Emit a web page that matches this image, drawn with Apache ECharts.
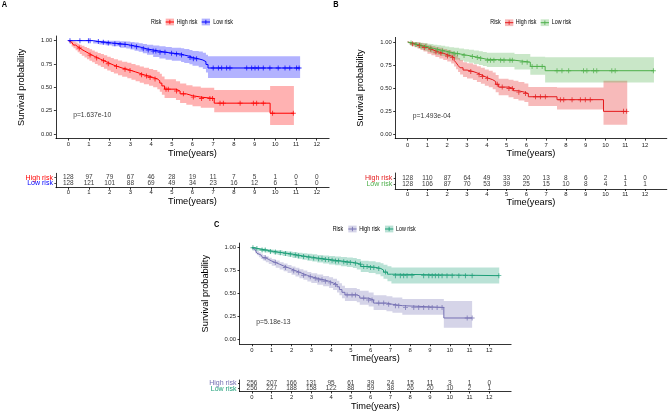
<!DOCTYPE html>
<html><head><meta charset="utf-8">
<script src="https://cdn.jsdelivr.net/npm/echarts@6/dist/echarts.min.js"></script>
<style>html,body{margin:0;padding:0;background:#fff}#c{width:668px;height:412px}</style>
</head><body><div id="c"></div>
<script>
// ---------- tick labels ----------
const yearTicks = [0,1,2,3,4,5,6,7,8,9,10,11,12];
const survTicks = [0,0.25,0.5,0.75,1];

// ---------- Panel A ----------
const aHighT = [0,0.08,0.16,0.25,0.35,0.45,0.55,0.65,0.78,0.9,1.02,1.15,1.28,1.42,1.57,1.72,1.88,2.05,2.2,2.4,2.6,2.85,3.05,3.25,3.45,3.65,3.9,4.1,4.3,4.42,4.52,4.65,5.2,5.4,5.7,6.0,6.4,7.05,9.75,10.9];
const aHighS = [1.0,0.984,0.969,0.953,0.937,0.922,0.906,0.89,0.875,0.86,0.845,0.83,0.815,0.8,0.785,0.77,0.752,0.737,0.722,0.707,0.693,0.679,0.665,0.65,0.634,0.62,0.605,0.59,0.57,0.545,0.515,0.48,0.46,0.43,0.41,0.395,0.38,0.33,0.222,0.222];
const aHighL = [1,0.963,0.938,0.918,0.897,0.877,0.858,0.838,0.82,0.802,0.785,0.768,0.751,0.734,0.717,0.7,0.68,0.663,0.647,0.63,0.614,0.598,0.582,0.566,0.548,0.532,0.516,0.5,0.478,0.452,0.42,0.385,0.364,0.333,0.312,0.296,0.28,0.232,0.095,0.095];
const aHighU = [1,1,1,0.99,0.98,0.968,0.956,0.945,0.933,0.921,0.908,0.895,0.882,0.869,0.856,0.843,0.828,0.814,0.8,0.787,0.774,0.762,0.749,0.736,0.722,0.71,0.697,0.685,0.667,0.645,0.617,0.585,0.566,0.54,0.522,0.508,0.495,0.47,0.515,0.515];
const aHighCens = [0.53,1.05,1.37,1.7,1.93,2.33,2.74,2.98,3.54,3.78,3.95,4.19,4.72,4.83,5.23,5.56,6.04,6.44,6.84,6.97,7.33,7.49,8.3,8.94,9.1,9.42,9.87,10.87];
const aLowT = [0,1.2,1.5,1.8,2.1,2.5,2.8,3.0,3.2,3.4,3.6,3.8,4.1,4.4,4.7,5.0,5.45,5.6,5.85,6.0,6.3,6.5,6.65,6.75,11.2];
const aLowS = [1.0,0.99,0.983,0.975,0.968,0.96,0.952,0.944,0.935,0.925,0.912,0.9,0.888,0.876,0.866,0.857,0.846,0.833,0.82,0.805,0.793,0.775,0.745,0.707,0.707];
const aLowL = [1,0.97,0.96,0.95,0.94,0.925,0.915,0.905,0.893,0.88,0.865,0.85,0.825,0.808,0.796,0.785,0.772,0.76,0.746,0.73,0.716,0.697,0.66,0.6,0.6];
const aLowU = [1,1,1,1,1,0.995,0.99,0.985,0.98,0.973,0.965,0.955,0.948,0.94,0.932,0.925,0.918,0.91,0.9,0.89,0.883,0.87,0.85,0.832,0.832];
const aLowCens = [0.08,0.56,0.97,1.05,1.45,1.69,1.93,2.25,2.5,2.74,3.06,3.3,3.62,3.86,4.1,4.23,4.43,4.67,4.99,5.23,5.47,5.88,6.04,6.2,7.0,7.25,7.41,7.65,7.81,8.62,8.86,9.02,9.18,9.42,9.74,10.14,10.47,10.7,11.03,11.15];
const aRiskHigh = [128,97,79,67,46,28,19,11,7,5,1,0,0];
const aRiskLow  = [128,121,101,88,69,49,34,23,16,12,6,1,0];

// ---------- Panel B ----------
const bHighT = [0,0.1,0.2,0.35,0.5,0.65,0.8,1.0,1.2,1.4,1.6,1.8,2.0,2.2,2.35,2.45,2.55,2.65,2.8,3.0,3.3,3.5,3.7,3.9,4.1,4.3,4.45,4.6,5.1,5.35,5.6,5.9,6.1,7.55,9.9,11.1];
const bHighS = [1.0,0.99,0.98,0.972,0.962,0.952,0.94,0.92,0.905,0.89,0.878,0.862,0.848,0.83,0.8,0.775,0.745,0.72,0.695,0.68,0.665,0.645,0.625,0.605,0.59,0.57,0.54,0.51,0.495,0.47,0.455,0.44,0.405,0.373,0.246,0.246];
const bHighL = [1,0.97,0.955,0.942,0.928,0.914,0.898,0.873,0.855,0.837,0.822,0.804,0.787,0.767,0.733,0.705,0.673,0.646,0.619,0.603,0.587,0.566,0.545,0.524,0.508,0.487,0.455,0.42,0.4,0.38,0.363,0.347,0.305,0.265,0.1,0.1];
const bHighU = [1,1,1,1,0.996,0.99,0.983,0.968,0.957,0.946,0.937,0.924,0.913,0.898,0.873,0.852,0.825,0.804,0.781,0.768,0.755,0.737,0.719,0.701,0.687,0.668,0.641,0.6,0.59,0.578,0.564,0.55,0.51,0.505,0.58,0.58];
const bHighCens = [0.25,0.59,0.84,1.17,1.43,1.68,2.01,2.27,3.19,3.61,3.78,4.03,4.53,4.78,5.12,5.29,5.62,5.96,6.46,6.71,6.96,7.72,7.89,8.31,8.73,8.98,9.23,10.91,11.07];
const bLowT = [0,0.1,0.2,0.35,0.5,0.65,0.8,1.0,1.15,1.3,1.5,1.7,1.9,2.1,2.35,2.6,2.85,3.1,3.35,3.6,3.8,4.0,5.4,6.2,6.95,12.45];
const bLowS = [1.0,0.99,0.982,0.974,0.966,0.958,0.95,0.94,0.931,0.922,0.912,0.902,0.892,0.882,0.872,0.862,0.852,0.842,0.832,0.822,0.812,0.802,0.781,0.735,0.688,0.688];
const bLowL = [1,0.97,0.958,0.945,0.933,0.92,0.908,0.895,0.884,0.872,0.86,0.847,0.835,0.823,0.81,0.798,0.786,0.774,0.762,0.75,0.738,0.727,0.7,0.644,0.56,0.56];
const bLowU = [1,1,1,1,0.998,0.993,0.989,0.982,0.977,0.971,0.965,0.958,0.951,0.944,0.937,0.93,0.922,0.915,0.907,0.899,0.891,0.883,0.87,0.84,0.835,0.835];
const bLowCens = [0.17,0.42,0.67,0.92,1.17,1.51,1.76,2.1,2.35,2.52,2.85,3.27,3.52,3.69,4.03,4.19,4.36,4.7,4.87,5.17,5.29,5.79,6.04,6.29,6.54,6.8,7.55,7.8,8.14,8.89,9.06,9.4,9.56,10.32,10.49,12.42];
const bRiskHigh = [128,110,87,64,49,33,20,13,8,6,2,1,0];
const bRiskLow  = [128,106,87,70,53,39,25,15,10,8,4,1,1];

// ---------- Panel C ----------
const cHighT = [0,0.08,0.16,0.25,0.35,0.45,0.55,0.7,0.85,1.0,1.2,1.4,1.6,1.8,2.0,2.2,2.4,2.6,2.8,3.0,3.3,3.6,3.9,4.1,4.3,4.42,4.55,4.7,5.3,5.45,5.9,6.15,6.8,7.1,7.6,9.7,11.13];
const cHighS = [1.0,0.98,0.96,0.94,0.922,0.905,0.89,0.872,0.855,0.838,0.82,0.802,0.785,0.768,0.75,0.733,0.716,0.7,0.684,0.668,0.652,0.635,0.618,0.6,0.575,0.545,0.515,0.487,0.475,0.452,0.432,0.398,0.385,0.37,0.351,0.236,0.236];
const cHighL = [1,0.963,0.94,0.917,0.897,0.877,0.861,0.841,0.822,0.803,0.783,0.764,0.745,0.726,0.706,0.687,0.668,0.651,0.633,0.616,0.598,0.58,0.561,0.541,0.514,0.482,0.45,0.42,0.406,0.381,0.36,0.323,0.309,0.293,0.272,0.13,0.13];
const cHighU = [1,0.997,0.985,0.967,0.951,0.936,0.922,0.906,0.891,0.876,0.86,0.843,0.828,0.812,0.796,0.781,0.765,0.751,0.737,0.722,0.708,0.693,0.678,0.662,0.64,0.613,0.586,0.562,0.551,0.531,0.514,0.484,0.472,0.459,0.442,0.42,0.42];
const cHighCens = [0.67,1.18,1.69,2.11,2.36,2.61,2.95,3.2,3.37,3.54,3.71,3.96,4.22,4.81,5.06,5.23,5.65,5.9,6.07,6.41,6.66,6.91,7.25,7.42,7.76,8.18,8.43,8.68,8.94,9.11,9.36,9.61,10.88,11.13];
const cLowT = [0,0.15,0.3,0.5,0.7,0.9,1.1,1.3,1.55,1.8,2.05,2.3,2.55,2.8,3.05,3.3,3.6,3.9,4.2,4.5,4.8,5.1,5.3,5.5,5.9,6.25,6.5,6.65,6.85,7.05,12.5];
const cLowS = [1.0,0.99,0.983,0.975,0.968,0.96,0.953,0.946,0.938,0.93,0.92,0.912,0.904,0.896,0.888,0.88,0.871,0.863,0.856,0.848,0.84,0.832,0.82,0.795,0.786,0.775,0.758,0.735,0.712,0.696,0.696];
const cLowL = [1,0.978,0.968,0.958,0.949,0.939,0.93,0.921,0.911,0.901,0.889,0.879,0.869,0.859,0.849,0.839,0.828,0.818,0.809,0.799,0.789,0.779,0.764,0.735,0.725,0.711,0.69,0.663,0.636,0.612,0.612];
const cLowU = [1,1,0.998,0.992,0.987,0.981,0.976,0.971,0.965,0.959,0.952,0.946,0.94,0.934,0.928,0.922,0.915,0.909,0.904,0.898,0.893,0.887,0.878,0.858,0.852,0.843,0.831,0.815,0.799,0.786,0.786];
const cLowCens = [0.05,0.25,0.51,0.67,0.93,1.18,1.43,1.69,1.94,2.19,2.36,2.61,2.87,3.12,3.37,3.54,3.71,3.88,4.05,4.22,4.38,4.64,4.81,4.97,5.23,5.48,5.65,5.82,5.99,6.16,6.41,6.75,7.25,7.5,7.67,7.84,8.09,8.68,8.94,9.11,9.27,9.44,9.61,9.86,10.12,10.46,10.79,11.13,12.48];
const cRiskHigh = [256,207,166,131,95,61,39,24,15,11,3,1,0];
const cRiskLow  = [256,227,188,158,122,88,59,38,26,20,10,2,1];

// ---------- font choice: a real narrow sans if present, else Liberation Sans squeezed ----------
function textWidth(font, txt) {
  const c = document.createElement('canvas').getContext('2d');
  c.font = font; return c.measureText(txt).width;
}
const probe = 'Time(years) Survival probability 0123456789';
const monoW = textWidth('100px monospace', probe);
const baseW = textWidth('100px "Liberation Sans", monospace', probe);
let FONT = "'Liberation Sans', Arial, sans-serif", ratio = 1;
for (const f of ['Liberation Sans Narrow','Arial Narrow','Nimbus Sans Narrow']) {
  const w = textWidth('100px "' + f + '", monospace', probe);
  if (Math.abs(w - monoW) > 1 && w / baseW < 0.88) { FONT = "'" + f + "', sans-serif"; ratio = w / baseW; break; }
}
const SX = Math.min(1, 0.82 / ratio);   // horizontal squeeze for free-standing text
const FS = Math.pow(SX, 0.4);           // font-size factor for library-placed text

const PLUS = 'path://M-1,-0.18H1V0.18H-1Z M-0.18,-1H0.18V1H-0.18Z';

const panels = [
  { letter:'A', letterPos:[4.5,4.5],
    high:{T:aHighT,S:aHighS,L:aHighL,U:aHighU,C:aHighCens,color:'#FF0000',fill:'rgba(255,0,0,0.3)'},
    low:{T:aLowT,S:aLowS,L:aLowL,U:aLowU,C:aLowCens,color:'#0000FF',fill:'rgba(0,0,255,0.3)'},
    riskHigh:aRiskHigh, riskLow:aRiskLow, pval:'p=1.637e-10', pvalPos:[0.21,0.2],
    xmin:-0.6, xmax:12.6,
    plot:{left:55.9,top:36.0,width:273.2,height:102.6}, plotNameGap:7.5, plotLabelMargin:3,
    table:{top:173.3,height:14.4,ymin:0.21,ymax:2.79}, tableNameGap:8.5, tableLabelMargin:2,
    legend:{y:22,risk:151,k1:165.7,t1:176.7,k2:201.7,t2:213.3} },
  { letter:'B', letterPos:[336,4.5],
    high:{T:bHighT,S:bHighS,L:bHighL,U:bHighU,C:bHighCens,color:'#E41A1C',fill:'rgba(228,26,28,0.3)'},
    low:{T:bLowT,S:bLowS,L:bLowL,U:bLowU,C:bLowCens,color:'#4DAF4A',fill:'rgba(77,175,74,0.3)'},
    riskHigh:bRiskHigh, riskLow:bRiskLow, pval:'p=1.493e-04', pvalPos:[0.23,0.19],
    xmin:-0.63, xmax:13.1,
    plot:{left:395.2,top:37.4,width:271.6,height:101.2}, plotNameGap:8.5, plotLabelMargin:3.5,
    table:{top:173,height:16,ymin:0.17,ymax:2.83}, tableNameGap:8, tableLabelMargin:2,
    legend:{y:22.7,risk:490.3,k1:505,t1:515.7,k2:540.7,t2:551.7} },
  { letter:'C', letterPos:[216.7,225],
    high:{T:cHighT,S:cHighS,L:cHighL,U:cHighU,C:cHighCens,color:'#7570B3',fill:'rgba(117,112,179,0.3)'},
    low:{T:cLowT,S:cLowS,L:cLowL,U:cLowU,C:cLowCens,color:'#1B9E77',fill:'rgba(27,158,119,0.3)'},
    riskHigh:cRiskHigh, riskLow:cRiskLow, pval:'p=5.18e-13', pvalPos:[0.19,0.19],
    xmin:-0.63, xmax:13.1,
    plot:{left:239.5,top:243.1,width:271.6,height:101.2}, plotNameGap:8.5, plotLabelMargin:3,
    table:{top:380,height:13.3,ymin:0.51,ymax:2.5}, tableNameGap:10.5, tableLabelMargin:3,
    legend:{y:229,risk:332.7,k1:348.3,t1:359.3,k2:385,t2:396} }
];

function stepAt(T, S, t) {
  let v = S[0];
  for (let k = 0; k < T.length; k++) { if (T[k] <= t) v = S[k]; else break; }
  return v;
}

const axisLineStyle = {color:'#000', width:0.8};
const grids = [], xAxes = [], yAxes = [], series = [], graphics = [];

function xAxisCfg(gi, p, gap, margin) {
  return { gridIndex:gi, type:'value', min:p.xmin, max:p.xmax,
    name:'Time(years)', nameLocation:'middle', nameGap:gap,
    nameTextStyle:{fontFamily:FONT, fontSize:10*FS, color:'#000', verticalAlign:'top'},
    axisLine:{show:true, onZero:false, lineStyle:axisLineStyle},
    axisTick:{show:true, length:2, customValues:yearTicks, lineStyle:axisLineStyle},
    axisLabel:{customValues:yearTicks, fontFamily:FONT, fontSize:6.4*FS, color:'#222', margin:margin, hideOverlap:false},
    splitLine:{show:false} };
}
function rowAxis(gi, p, val, text, color, showLine) {
  return { gridIndex:gi, type:'value', min:p.table.ymin, max:p.table.ymax, position:'left', offset:0,
    axisLine:{show:showLine, onZero:false, lineStyle:axisLineStyle},
    axisTick:{show:true, length:1.5, customValues:[val], lineStyle:axisLineStyle},
    axisLabel:{customValues:[val], formatter:() => text, color:color, hideOverlap:false,
      fontFamily:FONT, fontSize:7.6*FS, margin:3},
    splitLine:{show:false} };
}

panels.forEach(p => {
  const gP = grids.length, gT = gP + 1;
  grids.push({left:p.plot.left, top:p.plot.top, width:p.plot.width, height:p.plot.height});
  grids.push({left:p.plot.left, top:p.table.top, width:p.plot.width, height:p.table.height});
  const xP = xAxes.length; xAxes.push(xAxisCfg(gP, p, p.plotNameGap, p.plotLabelMargin));
  const xT = xAxes.length; xAxes.push(xAxisCfg(gT, p, p.tableNameGap, p.tableLabelMargin));
  const yP = yAxes.length;
  yAxes.push({ gridIndex:gP, type:'value', min:-0.05, max:1.05,
    name:'Survival probability', nameLocation:'middle', nameGap:30, nameRotate:90,
    nameTextStyle:{fontFamily:FONT, fontSize:10*FS, color:'#000'},
    axisLine:{show:true, onZero:false, lineStyle:axisLineStyle},
    axisTick:{show:true, length:2, customValues:survTicks, lineStyle:axisLineStyle},
    axisLabel:{customValues:survTicks, formatter:v => Number(v).toFixed(2), fontFamily:FONT, fontSize:6.4*FS, color:'#222', margin:3.5, hideOverlap:false},
    splitLine:{show:false} });
  const yT = yAxes.length;
  yAxes.push(rowAxis(gT, p, 2, 'High risk', p.high.color, true));
  yAxes.push(rowAxis(gT, p, 1, 'Low risk', p.low.color, false));

  // confidence bands: one step-shaped polygon per group, placed through the axes
  [p.high, p.low].forEach(g => {
    series.push({type:'custom', xAxisIndex:xP, yAxisIndex:yP, silent:true, z:1, clip:true,
      encode:{x:0, y:[1,2]},
      data:g.T.map((t,k) => [t, g.L[k], g.U[k]]),
      renderItem:(params, api) => {
        if (params.dataIndexInside !== 0) return null;
        const n = g.T.length, pts = [];
        for (let k = 0; k < n; k++) {
          pts.push(api.coord([g.T[k], g.U[k]]));
          if (k < n - 1) pts.push(api.coord([g.T[k+1], g.U[k]]));
        }
        for (let k = n - 1; k >= 0; k--) {
          if (k < n - 1) pts.push(api.coord([g.T[k+1], g.L[k]]));
          pts.push(api.coord([g.T[k], g.L[k]]));
        }
        return {type:'polygon', shape:{points:pts}, style:{fill:g.fill, stroke:null}};
      }});
  });
  [['High risk',p.high],['Low risk',p.low]].forEach(([name,g]) => {
    series.push({type:'line', name:name, xAxisIndex:xP, yAxisIndex:yP, step:'end', symbol:'none', z:3,
      lineStyle:{color:g.color, width:1}, itemStyle:{color:g.color}, data:g.T.map((t,k) => [t, g.S[k]])});
    series.push({type:'scatter', xAxisIndex:xP, yAxisIndex:yP, symbol:PLUS, symbolSize:5, z:4,
      itemStyle:{color:g.color}, data:g.C.map(t => [t, stepAt(g.T, g.S, t)])});
  });
  // p-value
  series.push({type:'scatter', xAxisIndex:xP, yAxisIndex:yP, symbolSize:1, itemStyle:{color:'rgba(0,0,0,0)'}, z:5,
    label:{show:true, position:'right', distance:0, formatter:p.pval, fontFamily:FONT, fontSize:7.3*FS, color:'#000'},
    data:[p.pvalPos]});
  // risk table
  series.push({type:'scatter', xAxisIndex:xT, yAxisIndex:yT, symbolSize:1, itemStyle:{color:'rgba(0,0,0,0)'},
    labelLayout:{hideOverlap:false},
    label:{show:true, position:'inside', formatter:q => String(q.value[2]), fontFamily:FONT, fontSize:7*FS, color:'#000'},
    data:yearTicks.map((t,k) => [t, 2, p.riskHigh[k]]).concat(yearTicks.map((t,k) => [t, 1, p.riskLow[k]]))});

  // panel letter
  graphics.push({type:'text', x:p.letterPos[0], y:p.letterPos[1], scaleX:SX,
    style:{text:p.letter, fontFamily:FONT, fontSize:9, fontWeight:'bold', fill:'#000', align:'center', verticalAlign:'middle'}});
  // legend
  const L = p.legend;
  graphics.push({type:'text', x:L.risk, y:L.y, scaleX:SX, style:{text:'Risk', fontFamily:FONT, fontSize:6.5, fill:'#000', align:'left', verticalAlign:'middle'}});
  [[L.k1,L.t1,'High risk',p.high],[L.k2,L.t2,'Low risk',p.low]].forEach(([kx,tx,txt,g]) => {
    graphics.push({type:'rect', shape:{x:kx, y:L.y-3.4, width:8.3, height:6.8}, style:{fill:g.fill}});
    graphics.push({type:'line', shape:{x1:kx, y1:L.y, x2:kx+8.3, y2:L.y}, style:{stroke:g.color, lineWidth:1}});
    graphics.push({type:'line', shape:{x1:kx+4.15, y1:L.y-2.2, x2:kx+4.15, y2:L.y+2.2}, style:{stroke:g.color, lineWidth:0.8}});
    graphics.push({type:'text', x:tx, y:L.y, scaleX:SX, style:{text:txt, fontFamily:FONT, fontSize:6.5, fill:'#000', align:'left', verticalAlign:'middle'}});
  });
});

const chart = echarts.init(document.getElementById('c'), null, {renderer:'canvas'});
chart.setOption({
  animation:false,
  backgroundColor:'#fff',
  grid:grids, xAxis:xAxes, yAxis:yAxes, series:series,
  graphic:{elements:graphics}
});
</script></body></html>
